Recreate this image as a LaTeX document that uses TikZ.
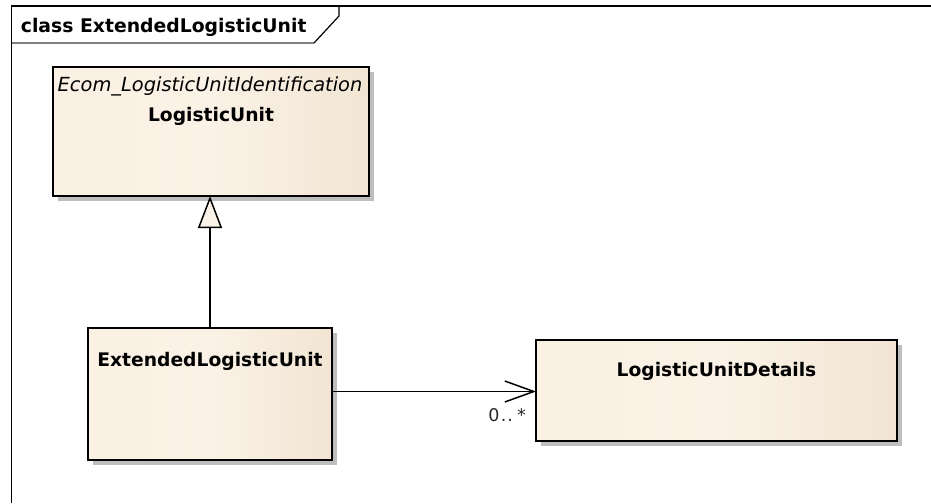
\documentclass[tikz,border=0pt]{standalone}
\usepackage{fontspec}
\setmainfont{DejaVu Sans}
\usetikzlibrary{arrows.meta,shadows}
\definecolor{cL}{RGB}{249,238,222}
\definecolor{cM}{RGB}{251,242,231}
\definecolor{cR}{RGB}{232,216,190}
\definecolor{shad}{RGB}{190,190,190}
\definecolor{tabline}{RGB}{128,128,128}
\pgfdeclarehorizontalshading{eagrad}{100bp}{color(0bp)=(cL); color(50bp)=(cM); color(100bp)=(cR)}
\tikzset{
  umlbox/.style={draw=black, line width=1.8pt, shading=eagrad, rectangle, inner sep=0pt, outer sep=0pt, anchor=north west,
    drop shadow={shadow xshift=5pt, shadow yshift=-5pt, fill=shad, opacity=1}},
  lbl/.style={font=\fontsize{18.5}{22}\selectfont, inner sep=0pt, anchor=base},
  conn/.style={line width=1.5pt, draw=black},
}
\begin{document}
\begin{tikzpicture}[x=1pt,y=-1pt]
\useasboundingbox (0,0) rectangle (931,503);
% frame
\draw[line width=1.6pt] (11.5,503) -- (11.5,6) -- (931,6);
\draw[line width=2pt, tabline] (11.5,43) -- (314,43);
\draw[line width=1.2pt] (314,43) -- (339,16) -- (339,6);
\node[lbl, anchor=base west, font=\fontsize{18.8}{22}\selectfont\bfseries] (title) at (20.7,33) {class ExtendedLogisticUnit};
% boxes
\node[umlbox, minimum width=316pt, minimum height=129pt] (lu) at (53,67) {};
\node[umlbox, minimum width=244pt, minimum height=132pt] (elu) at (88,328) {};
\node[umlbox, minimum width=361pt, minimum height=101pt] (det) at (536,340) {};
% texts
\node[lbl, font=\fontsize{19.4}{22}\selectfont\itshape] (lust) at (210,91.5) {Ecom\_LogisticUnitIdentification};
\node[lbl, font=\fontsize{18.7}{22}\selectfont\bfseries] (luname) at (211,121.5) {LogisticUnit};
\node[lbl, font=\fontsize{18.7}{22}\selectfont\bfseries] (eluname) at (210,366) {ExtendedLogisticUnit};
\node[lbl, font=\fontsize{18.7}{22}\selectfont\bfseries] (detname) at (716.5,376.5) {LogisticUnitDetails};
% connectors
\draw[conn, -{Triangle[open, length=32pt, width=24pt, fill=cM]}] (elu.north) -- (elu.north |- lu.south);
\coordinate (assoc) at (0,391.5);
\draw[conn, -{Straight Barb[length=29pt, width=21pt, line width=1.5pt]}] (elu.east |- assoc) -- (det.west |- assoc);
\node[lbl, anchor=base east, font=\fontsize{17.5}{20}\selectfont, text=black!85] (mult) at (526,421.5) {0\kern1.5pt.\kern1pt.\kern4pt*};
\end{tikzpicture}
\end{document}
